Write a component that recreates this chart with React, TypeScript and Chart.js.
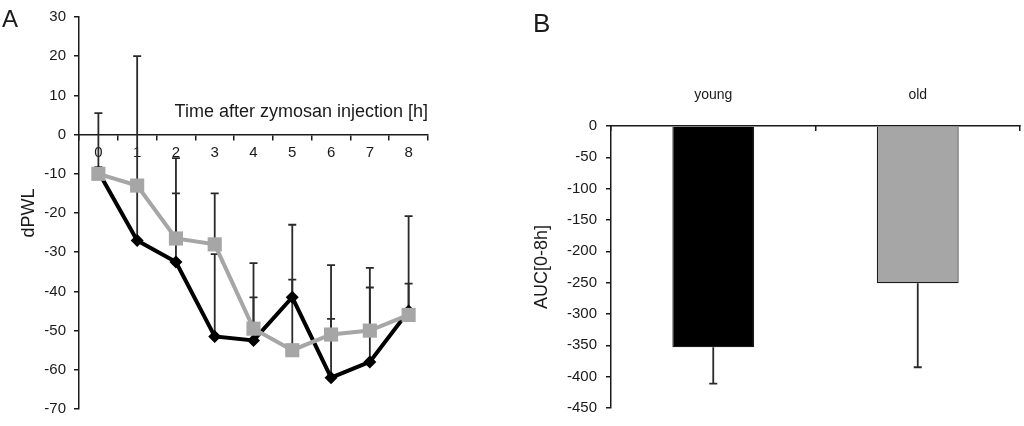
import { useEffect, useRef } from "react"
import { Chart, registerables } from "chart.js"

Chart.register(...registerables)

// Panel A: dPWL over time
const hours = ["0", "1", "2", "3", "4", "5", "6", "7", "8"]
const youngMean = [-9.5, -27, -32.5, -51.5, -52.5, -41.5, -62, -58, -45]
const youngSd = [15, 13, 17.5, 21, 11, 18.5, 15, 19, 7]
const oldMean = [-10, -13, -26.5, -28, -49.5, -55, -51, -50, -46]
const oldSd = [1.7, 33, 20.5, 13, 16.7, 18, 17.7, 16, 25.2]

// Panel B: AUC
const groups = ["young", "old"]
const aucMean = [-353, -251]
const aucSd = [58, 134]

const FONT = "'Liberation Sans', Arial, sans-serif"
const INK = "#1a1a1a"
const GRAY = "#a6a6a6"

// draws SD whiskers behind the datasets, up or down from each value
const errorBarPlugin = {
  id: "errorBars",
  beforeDatasetsDraw(chart: any) {
    const { ctx } = chart
    const yScale = chart.scales.y
    ctx.save()
    ctx.strokeStyle = "#2a2a2a"
    ctx.lineWidth = 1.8
    chart.data.datasets.forEach((ds: any, i: number) => {
      if (!ds.sd) return
      const meta = chart.getDatasetMeta(i)
      const dir = ds.sdDir ?? 1
      meta.data.forEach((el: any, j: number) => {
        const v = ds.data[j]
        const y0 = yScale.getPixelForValue(v)
        const y1 = yScale.getPixelForValue(v + dir * ds.sd[j])
        ctx.beginPath()
        ctx.moveTo(el.x, y0)
        ctx.lineTo(el.x, y1)
        ctx.moveTo(el.x - 4, y1)
        ctx.lineTo(el.x + 4, y1)
        ctx.stroke()
      })
    })
    ctx.restore()
  },
}

function TimeCourseChart() {
  const chartRef = useRef<HTMLCanvasElement>(null)
  const chartInstance = useRef<Chart | null>(null)

  useEffect(() => {
    if (!chartRef.current) return
    if (chartInstance.current) chartInstance.current.destroy()

    const ctx = chartRef.current.getContext("2d")
    if (!ctx) return
    chartInstance.current = new Chart(ctx, {
      type: "line",
      data: {
        labels: hours,
        datasets: [
          {
            label: "old",
            data: oldMean,
            sd: oldSd,
            borderColor: GRAY,
            backgroundColor: GRAY,
            borderWidth: 4,
            tension: 0,
            pointStyle: "rect",
            pointRadius: 10,
            pointBorderWidth: 0,
            pointBackgroundColor: GRAY,
            order: 0,
          } as any,
          {
            label: "young",
            data: youngMean,
            sd: youngSd,
            borderColor: "#000",
            backgroundColor: "#000",
            borderWidth: 4,
            tension: 0,
            pointStyle: "rectRot",
            pointRadius: 6.5,
            pointBorderWidth: 0,
            pointBackgroundColor: "#000",
            order: 1,
          } as any,
        ],
      },
      options: {
        animation: false,
        responsive: true,
        maintainAspectRatio: false,
        layout: { padding: { left: 0, top: 7, right: 12, bottom: 13 } },
        plugins: {
          legend: { display: false },
          tooltip: { enabled: false },
        },
        scales: {
          x: {
            position: { y: 0 } as any,
            offset: true,
            grid: {
              offset: true,
              drawOnChartArea: false,
              drawTicks: true,
              tickLength: 5,
              color: INK,
              lineWidth: 1.5,
            },
            border: { color: INK, width: 1.5 },
            ticks: { padding: 4, color: INK, font: { family: FONT, size: 15 } },
            title: {
              display: true,
              text: "Time after zymosan injection [h]",
              align: "end",
              color: INK,
              padding: { top: 0, bottom: 12 },
              font: { family: FONT, size: 18 },
            },
            afterFit: (scale: any) => {
              scale.height = 0
            },
          },
          y: {
            min: -70,
            max: 30,
            ticks: { stepSize: 10, padding: 8, color: INK, font: { family: FONT, size: 15 } },
            grid: { drawOnChartArea: false, tickLength: 5, color: INK, lineWidth: 1.5 },
            border: { color: INK, width: 1.5 },
            title: {
              display: true,
              text: "dPWL",
              color: INK,
              padding: { top: 18, bottom: 0 },
              font: { family: FONT, size: 18 },
            },
            afterFit: (scale: any) => {
              scale.width = 79
            },
          },
        },
      },
      plugins: [errorBarPlugin],
    })

    return () => {
      if (chartInstance.current) {
        chartInstance.current.destroy()
        chartInstance.current = null
      }
    }
  }, [])

  return <canvas ref={chartRef} />
}

function AucChart() {
  const chartRef = useRef<HTMLCanvasElement>(null)
  const chartInstance = useRef<Chart | null>(null)

  useEffect(() => {
    if (!chartRef.current) return
    if (chartInstance.current) chartInstance.current.destroy()

    const ctx = chartRef.current.getContext("2d")
    if (!ctx) return
    chartInstance.current = new Chart(ctx, {
      type: "bar",
      data: {
        labels: groups,
        datasets: [
          {
            data: aucMean,
            sd: aucSd,
            sdDir: -1,
            backgroundColor: ["#000", GRAY],
            borderColor: INK,
            borderWidth: 1.2,
            barPercentage: 0.4,
            categoryPercentage: 1,
          } as any,
        ],
      },
      options: {
        animation: false,
        responsive: true,
        maintainAspectRatio: false,
        layout: { padding: { left: 0, top: 0, right: 4, bottom: 9 } },
        plugins: {
          legend: { display: false },
          tooltip: { enabled: false },
        },
        scales: {
          x: {
            position: "top",
            grid: {
              offset: true,
              drawOnChartArea: false,
              drawTicks: true,
              tickLength: -5,
              color: INK,
              lineWidth: 1.5,
            },
            border: { color: INK, width: 1.5 },
            ticks: { padding: 27, color: INK, font: { family: FONT, size: 14 } },
            afterFit: (scale: any) => {
              scale.height = 126
            },
          },
          y: {
            min: -450,
            max: 0,
            ticks: { stepSize: 50, padding: 9, color: INK, font: { family: FONT, size: 15 } },
            grid: { drawOnChartArea: false, tickLength: 5, color: INK, lineWidth: 1.5 },
            border: { color: INK, width: 1.5 },
            title: {
              display: true,
              text: "AUC[0-8h]",
              color: INK,
              padding: { top: 11, bottom: 0 },
              font: { family: FONT, size: 18 },
            },
            afterFit: (scale: any) => {
              scale.width = 91
            },
          },
        },
      },
      plugins: [errorBarPlugin],
    })

    return () => {
      if (chartInstance.current) {
        chartInstance.current.destroy()
        chartInstance.current = null
      }
    }
  }, [])

  return <canvas ref={chartRef} />
}

const panelLabel = (size: number): React.CSSProperties => ({
  position: "absolute",
  fontFamily: FONT,
  fontSize: size,
  lineHeight: 1,
  color: INK,
})

export default function App() {
  return (
    <div
      style={{
        position: "absolute",
        left: 0,
        top: 0,
        width: 1024,
        height: 426,
        background: "#fff",
        overflow: "hidden",
      }}
    >
      <div style={{ position: "absolute", left: 0, top: 0, width: 440, height: 426 }}>
        <TimeCourseChart />
      </div>
      <div style={{ position: "absolute", left: 520, top: 0, width: 504, height: 426 }}>
        <AucChart />
      </div>
      <div style={{ ...panelLabel(24), left: 2, top: 7 }}>A</div>
      <div style={{ ...panelLabel(26), left: 533, top: 10 }}>B</div>
    </div>
  )
}
